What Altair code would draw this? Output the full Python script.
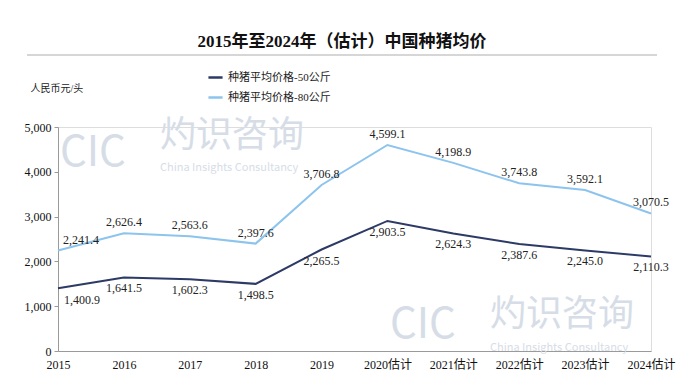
import altair as alt
import pandas as pd

years = ["2015", "2016", "2017", "2018", "2019", "2020估计", "2021估计", "2022估计", "2023估计", "2024估计"]
price_50kg = [1400.9, 1641.5, 1602.3, 1498.5, 2265.5, 2903.5, 2624.3, 2387.6, 2245.0, 2110.3]
price_80kg = [2241.4, 2626.4, 2563.6, 2397.6, 3706.8, 4599.1, 4198.9, 3743.8, 3592.1, 3070.5]
series_names = ["种猪平均价格-50公斤", "种猪平均价格-80公斤"]
series_colors = ["#2c3a65", "#8cc4ee"]
y_ticks = [0, 1000, 2000, 3000, 4000, 5000]

SERIF = "Liberation Serif, Noto Sans CJK SC"

rows = []
for i, yr in enumerate(years):
    rows.append({"year": yr, "series": series_names[0], "value": price_50kg[i],
                 "label": f"{price_50kg[i]:,.1f}", "first": i == 0})
    rows.append({"year": yr, "series": series_names[1], "value": price_80kg[i],
                 "label": f"{price_80kg[i]:,.1f}", "first": i == 0})
df = pd.DataFrame(rows)

W, H = 593, 224

x = alt.X("year:N", sort=years, scale=alt.Scale(type="point", padding=0),
          axis=alt.Axis(title=None, labelAngle=0, labelFont=SERIF, labelFontSize=12,
                        labelColor="#111", domainColor="#9a9a9a", ticks=False,
                        labelPadding=8, labelFlush=False))
y = alt.Y("value:Q", scale=alt.Scale(domain=[0, 5000], nice=False),
          axis=alt.Axis(values=y_ticks, format=",.0f", title="人民币元/头", titleAngle=0,
                        titleX=-28, titleY=-39, titleAlign="left", titleBaseline="middle",
                        titleFont=SERIF, titleFontSize=10, titleFontWeight="normal",
                        titleColor="#222", labelFont=SERIF, labelFontSize=12,
                        labelColor="#111", domainColor="#9a9a9a", tickColor="#9a9a9a",
                        tickSize=4, grid=False, labelPadding=3))

color = alt.Color("series:N", scale=alt.Scale(domain=series_names, range=series_colors),
                  legend=alt.Legend(title=None, orient="none", legendX=149, legendY=-58,
                                    direction="vertical", symbolType="stroke",
                                    symbolStrokeWidth=2.5, symbolSize=200,
                                    labelFont=SERIF, labelFontSize=11, labelColor="#222",
                                    rowPadding=6))

base = alt.Chart(df)

# watermark (decorative), positioned in pixels
wm_text = ["CIC", "灼识咨询", "China Insights Consultancy", "CIC", "灼识咨询", "China Insights Consultancy"]
wm_x = [2, 102, 102, 332, 432, 432]
wm_y = [26, 9, 41, 198, 188, 221]
wm_size = [42, 36, 11, 42, 36, 11]
wm_layers = [
    alt.Chart(pd.DataFrame({"t": [t]})).mark_text(
        align="left", baseline="middle", color="#d6dde7", font="Noto Sans CJK SC", fontSize=s
    ).encode(x=alt.value(px), y=alt.value(py), text="t:N")
    for t, px, py, s in zip(wm_text, wm_x, wm_y, wm_size)
]

lines = base.mark_line(strokeWidth=2).encode(x=x, y=y, color=color)

lab_top = base.transform_filter(
    (alt.datum.series == series_names[1]) & (~alt.datum.first)
).mark_text(dy=-11, font=SERIF, fontSize=12, color="#222").encode(x=x, y=y, text="label:N")
lab_top0 = base.transform_filter(
    (alt.datum.series == series_names[1]) & (alt.datum.first)
).mark_text(dy=-11, dx=23, font=SERIF, fontSize=12, color="#222").encode(x=x, y=y, text="label:N")
lab_bot = base.transform_filter(
    (alt.datum.series == series_names[0]) & (~alt.datum.first)
).mark_text(dy=11, font=SERIF, fontSize=12, color="#222").encode(x=x, y=y, text="label:N")
lab_bot0 = base.transform_filter(
    (alt.datum.series == series_names[0]) & (alt.datum.first)
).mark_text(dy=12, dx=24, font=SERIF, fontSize=12, color="#222").encode(x=x, y=y, text="label:N")

title = alt.Chart(pd.DataFrame({"t": ["2015年至2024年（估计）中国种猪均价"]})).mark_text(
    font=SERIF, fontSize=17, fontWeight="bold", color="#111", baseline="middle"
).encode(x=alt.value(284), y=alt.value(-85), text="t:N")

title_rule = alt.Chart(pd.DataFrame({"a": [0]})).mark_rule(color="#c8c8c8", strokeWidth=1.5).encode(
    x=alt.value(-31), x2=alt.value(599), y=alt.value(-72))

chart = alt.layer(*wm_layers, title_rule, title, lines, lab_top, lab_top0, lab_bot, lab_bot0).properties(
    width=W, height=H,
    autosize=alt.AutoSizeParams(type="none"),
    padding={"left": 50, "top": 119, "right": 25, "bottom": 31},
).configure_view(stroke=None).configure(background="white")

chart.save("out.html", embed_options={"renderer": "svg", "actions": False})
